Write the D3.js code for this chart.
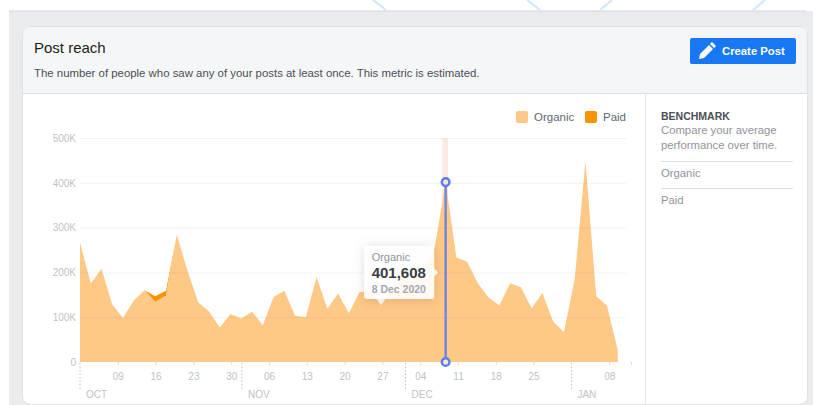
<!DOCTYPE html>
<html>
<head>
<meta charset="utf-8">
<script src="https://cdn.jsdelivr.net/npm/d3@7"></script>
<style>
html, body { margin: 0; padding: 0; background: #fff; overflow: hidden; }
text { font-family: "Liberation Sans", Arial, sans-serif; }
</style>
</head>
<body>
<div id="chart"></div>
<script>
// values, one point every two days
const organic = [267000, 175000, 208000, 128000, 98000, 137000, 160000, 134000, 148000, 284000,
    203000, 133000, 113000, 77000, 107000, 97000, 112000, 82000, 145000, 159000,
    103000, 100000, 190000, 119000, 153000, 109000, 156000, 158000, 127000, 160000,
    200000, 185000, 205000, 258000, 401608, 233000, 224000, 175000, 144000, 126000,
    176000, 167000, 120000, 154000, 90000, 67000, 184000, 448000, 147000, 126000, 27000];
const paid = [0, 0, 0, 0, 0, 0, 0, 13000, 11000, 0,
    0, 0, 0, 0, 0, 0, 0, 0, 0, 0,
    0, 0, 0, 0, 0, 0, 0, 0, 0, 0,
    0, 0, 0, 0, 0, 0, 0, 0, 0, 0,
    0, 0, 0, 0, 0, 0, 0, 0, 0, 0, 0];
const yTicks = [0, 100000, 200000, 300000, 400000, 500000];
const yTickLabels = ['0', '100K', '200K', '300K', '400K', '500K'];
// days counted from 2 Oct
const dayTicks = [7, 14, 21, 28, 35, 42, 49, 56, 63, 70, 77, 84, 98];
const dayLabels = ['09', '16', '23', '30', '06', '13', '20', '27', '04', '11', '18', '25', '08'];
const monthDays = [0, 30, 60.3, 91];
const monthLabels = ['OCT', 'NOV', 'DEC', 'JAN'];
const activeIndex = 34;

const W = 813, H = 405;
const plot = { left: 80, right: 626, top: 138, bottom: 362 };

const svg = d3.select('#chart').append('svg')
    .attr('width', W).attr('height', H)
    .style('display', 'block');

// ######## PAGE BACKGROUND ########
svg.append('rect').attr('x', 9).attr('y', 11).attr('width', W - 9).attr('height', H).attr('fill', '#e9ebee');
svg.append('line').attr('x1', 9).attr('x2', 806).attr('y1', 11).attr('y2', 11).attr('stroke', '#d3d6db');
[[373, 0, 386, 10], [527, 0, 540, 10], [600, 10, 612, 0], [753, 10, 765, 0]].forEach(l => {
    svg.append('line').attr('x1', l[0]).attr('y1', l[1]).attr('x2', l[2]).attr('y2', l[3])
        .attr('stroke', '#cfe5f8').attr('stroke-width', 2);
});

// ######## CARD ########
const clipDefs = svg.append('defs');
clipDefs.append('clipPath').attr('id', 'card-clip')
    .append('rect').attr('x', 22).attr('y', 26).attr('width', 786).attr('height', 378).attr('rx', 8);
const shadow = clipDefs.append('filter').attr('id', 'tip-shadow')
    .attr('x', '-30%').attr('y', '-30%').attr('width', '160%').attr('height', '160%');
shadow.append('feDropShadow').attr('dx', 0).attr('dy', 1).attr('stdDeviation', 6)
    .attr('flood-color', '#000').attr('flood-opacity', 0.14);

const card = svg.append('g').attr('clip-path', 'url(#card-clip)');
card.append('rect').attr('x', 22).attr('y', 26).attr('width', 786).attr('height', 378).attr('fill', '#fff');
card.append('rect').attr('x', 22).attr('y', 26).attr('width', 786).attr('height', 67).attr('fill', '#f5f6f7');
card.append('line').attr('x1', 22).attr('x2', 808).attr('y1', 93.5).attr('y2', 93.5).attr('stroke', '#dddfe2');
card.append('line').attr('x1', 645.5).attr('x2', 645.5).attr('y1', 93).attr('y2', 405).attr('stroke', '#e4e6e9');
svg.append('rect').attr('x', 22.5).attr('y', 26.5).attr('width', 785).attr('height', 378).attr('rx', 8)
    .attr('fill', 'none').attr('stroke', '#dfe1e5');

svg.append('text').attr('x', 34).attr('y', 53).attr('font-size', 15).attr('fill', '#1c1e21').text('Post reach');
svg.append('text').attr('x', 34).attr('y', 77).attr('font-size', 11.4).attr('fill', '#4b4f56')
    .text('The number of people who saw any of your posts at least once. This metric is estimated.');

// button
svg.append('rect').attr('x', 690).attr('y', 38).attr('width', 106).attr('height', 26).attr('rx', 2).attr('fill', '#1877f2');
svg.append('path')
    .attr('transform', 'translate(699,43)')
    .attr('d', 'M0 16 L1 11 L10 2 L14 6 L5 15 Z M11 1 L13 -1 L17 3 L15 5 Z')
    .attr('fill', '#fff');
svg.append('text').attr('x', 722).attr('y', 55).attr('font-size', 11.3).attr('font-weight', 'bold')
    .attr('fill', '#fff').text('Create Post');

// ######## SCALES ########
const x = d3.scalePoint().domain(d3.range(organic.length)).range([80, 617.7]);
const xDay = d3.scaleLinear().domain([0, 100]).range([80, 620]);
const y = d3.scaleLinear().domain([0, 500000]).range([plot.bottom, plot.top]);

const rows = organic.map((v, i) => ({ i: i, organic: v, paid: paid[i] }));
const series = d3.stack().keys(['organic', 'paid'])(rows);
const color = d3.scaleOrdinal().domain(['organic', 'paid']).range(['#fec886', '#f79400']);

// highlight band behind the active point
svg.append('rect')
    .attr('x', x(activeIndex) - 3.2).attr('width', 5.5)
    .attr('y', plot.top).attr('height', plot.bottom - plot.top)
    .attr('fill', '#fde8e3');

// ######## AREAS ########
const area = d3.area()
    .x(d => x(d.data.i))
    .y0(d => y(d[0]))
    .y1(d => y(d[1]));

svg.append('g').selectAll('path')
    .data(series.slice().reverse())
    .join('path')
    .attr('d', area)
    .attr('fill', d => color(d.key));

// ######## AXES ########
const yAxis = svg.append('g')
    .attr('transform', 'translate(' + plot.left + ',0)')
    .call(d3.axisLeft(y).tickValues(yTicks).tickSize(0).tickPadding(4)
        .tickFormat((d, i) => yTickLabels[i]));
yAxis.select('.domain').remove();
yAxis.selectAll('text').attr('font-size', 10).attr('font-family', null).attr('fill', '#bec3c9');

svg.append('g').selectAll('line')
    .data(yTicks.filter(d => d > 0))
    .join('line')
    .attr('x1', plot.left).attr('x2', plot.right)
    .attr('y1', d => y(d) + 0.5).attr('y2', d => y(d) + 0.5)
    .attr('stroke', '#000').attr('stroke-opacity', 0.05);

const xAxis = svg.append('g')
    .attr('transform', 'translate(0,' + plot.bottom + ')')
    .call(d3.axisBottom(xDay).tickValues(dayTicks).tickSize(3).tickPadding(8)
        .tickFormat((d, i) => dayLabels[i]));
xAxis.select('.domain').remove();
xAxis.selectAll('line').attr('stroke', '#dddfe2');
xAxis.selectAll('text').attr('font-size', 10).attr('font-family', null).attr('fill', '#bec3c9');

svg.append('line').attr('x1', 631.5).attr('x2', 631.5).attr('y1', plot.bottom).attr('y2', plot.bottom + 3).attr('stroke', '#dddfe2');

const months = svg.append('g').selectAll('g')
    .data(monthDays)
    .join('g')
    .attr('transform', d => 'translate(' + xDay(d) + ',' + plot.bottom + ')');
months.append('line')
    .attr('y1', 1).attr('y2', 27)
    .attr('stroke', '#bec3c9').attr('stroke-dasharray', '1.5,2');
months.append('text')
    .attr('x', 6).attr('y', 36)
    .attr('font-size', 10).attr('fill', '#bec3c9')
    .text((d, i) => monthLabels[i]);

// ######## ACTIVE POINT ########
const ax = x(activeIndex);
svg.append('line').attr('x1', ax).attr('x2', ax)
    .attr('y1', y(organic[activeIndex])).attr('y2', plot.bottom)
    .attr('stroke', '#7388dd').attr('stroke-width', 2.5);
svg.selectAll('circle.active')
    .data([organic[activeIndex], 0])
    .join('circle')
    .attr('class', 'active')
    .attr('cx', ax).attr('cy', d => y(d)).attr('r', 3.8)
    .attr('fill', '#fde4de').attr('stroke', '#5b7fe6').attr('stroke-width', 2.5);

// ######## TOOLTIP ########
const tipW = 70, tipH = 53;
const tip = svg.append('g').attr('transform', 'translate(' + (ax - 81.5) + ',246)');
tip.append('rect').attr('width', tipW).attr('height', tipH).attr('rx', 3)
    .attr('fill', '#fff').attr('fill-opacity', 0.9).attr('filter', 'url(#tip-shadow)');
tip.append('path').attr('d', 'M' + tipW + ' ' + (tipH / 2 - 4) + ' l4 4 l-4 4 Z')
    .attr('fill', '#fff').attr('fill-opacity', 0.9);
tip.append('text').attr('x', 7.5).attr('y', 15).attr('font-size', 11).attr('fill', '#90949c').text('Organic');
tip.append('text').attr('x', 7.5).attr('y', 32).attr('font-size', 15).attr('font-weight', 'bold').attr('fill', '#3a3d44').text('401,608');
tip.append('text').attr('x', 7.5).attr('y', 47).attr('font-size', 10.5).attr('font-weight', 'bold').attr('fill', '#a5a8ae').text('8 Dec 2020');

// ######## LEGEND ########
const legendItems = [['organic', 'Organic', 516], ['paid', 'Paid', 585]];
const legend = svg.append('g').selectAll('g')
    .data(legendItems)
    .join('g')
    .attr('transform', d => 'translate(' + d[2] + ',111)');
legend.append('rect').attr('width', 12).attr('height', 12).attr('rx', 2).attr('fill', d => color(d[0]));
legend.append('text').attr('x', 18).attr('y', 10).attr('font-size', 11.5).attr('fill', '#606770').text(d => d[1]);

// ######## BENCHMARK PANEL ########
svg.append('text').attr('x', 661).attr('y', 120).attr('font-size', 10.5).attr('font-weight', 'bold').attr('fill', '#4b4f56').text('BENCHMARK');
svg.append('text').attr('x', 661).attr('y', 134).attr('font-size', 11.3).attr('fill', '#90949c').text('Compare your average');
svg.append('text').attr('x', 661).attr('y', 149).attr('font-size', 11.3).attr('fill', '#90949c').text('performance over time.');
svg.append('line').attr('x1', 661).attr('x2', 793).attr('y1', 161.5).attr('y2', 161.5).attr('stroke', '#dddfe2');
svg.append('text').attr('x', 661).attr('y', 177).attr('font-size', 11.3).attr('fill', '#90949c').text('Organic');
svg.append('line').attr('x1', 661).attr('x2', 793).attr('y1', 188.5).attr('y2', 188.5).attr('stroke', '#dddfe2');
svg.append('text').attr('x', 661).attr('y', 204).attr('font-size', 11.3).attr('fill', '#90949c').text('Paid');
</script>
</body>
</html>
